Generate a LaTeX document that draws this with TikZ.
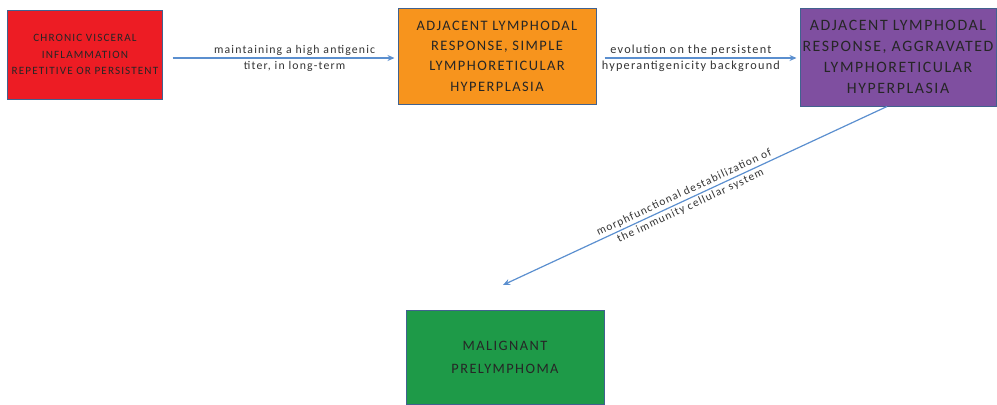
\documentclass[tikz,border=0pt]{standalone}
\usepackage{fontspec}
\setmainfont{Carlito}
\newfontfamily\spc[LetterSpace=10]{Carlito}
\usetikzlibrary{arrows.meta}
\definecolor{cred}{HTML}{ED1C24}
\definecolor{corange}{HTML}{F7941D}
\definecolor{cpurple}{HTML}{7F4FA0}
\definecolor{cgreen}{HTML}{1E9A48}
\definecolor{cborder}{HTML}{41628F}
\definecolor{carrow}{HTML}{5B8FCF}
\tikzset{
  box/.style={draw=cborder, line width=1bp, align=center, inner sep=1bp, text=black!85},
  arr/.style={draw=carrow, line width=1.2bp, -{Stealth[length=7bp,width=6bp]}},
  lbl/.style={align=center, text=black!80}
}
\begin{document}
\begin{tikzpicture}[x=1bp,y=-1bp]
\useasboundingbox (0,0) rectangle (997,404);
\node[box, fill=cred, minimum width=154bp, minimum height=89bp, font=\spc\fontsize{11.2}{16.5}\selectfont] (red) at (85,54.5)
  {CHRONIC VISCERAL\\INFLAMMATION\\REPETITIVE OR PERSISTENT};
\node[box, fill=corange, minimum width=198bp, minimum height=96bp, font=\spc\fontsize{14.5}{20.5}\selectfont] (orange) at (497,56)
  {ADJACENT LYMPHODAL\\RESPONSE, SIMPLE\\LYMPHORETICULAR\\HYPERPLASIA};
\node[box, fill=cpurple, minimum width=196bp, minimum height=98bp, font=\spc\fontsize{15.9}{21}\selectfont] (purple) at (898,57)
  {ADJACENT LYMPHODAL\\RESPONSE, AGGRAVATED\\LYMPHORETICULAR\\HYPERPLASIA};
\node[box, fill=cgreen, minimum width=198bp, minimum height=94bp, font=\spc\fontsize{14.4}{23}\selectfont] (green) at (505,357)
  {MALIGNANT\\PRELYMPHOMA};
\coordinate (tip) at (503,285);
\draw[arr] ([xshift=10bp,yshift=-3.5bp]red.east) -- ([xshift=-3bp,yshift=-3.5bp]red.east -| orange.west)
  node[lbl, pos=0.55, font=\spc\fontsize{11.8}{16}\selectfont] {maintaining a high antigenic\\titer, in long-term};
\draw[arr] ([xshift=8bp,yshift=-2bp]orange.east) -- ([xshift=-3bp,yshift=-2bp]orange.east -| purple.west)
  node[lbl, pos=0.45, font=\spc\fontsize{12.3}{16}\selectfont] {evolution on the persistent\\hyperantigenicity background};
\draw[arr] ([xshift=-11bp]purple.south) -- (tip)
  node[lbl, pos=0.52, sloped, font=\spc\fontsize{11.4}{15}\selectfont] {morphfunctional destabilization of\\the immunity cellular system};
\end{tikzpicture}
\end{document}
